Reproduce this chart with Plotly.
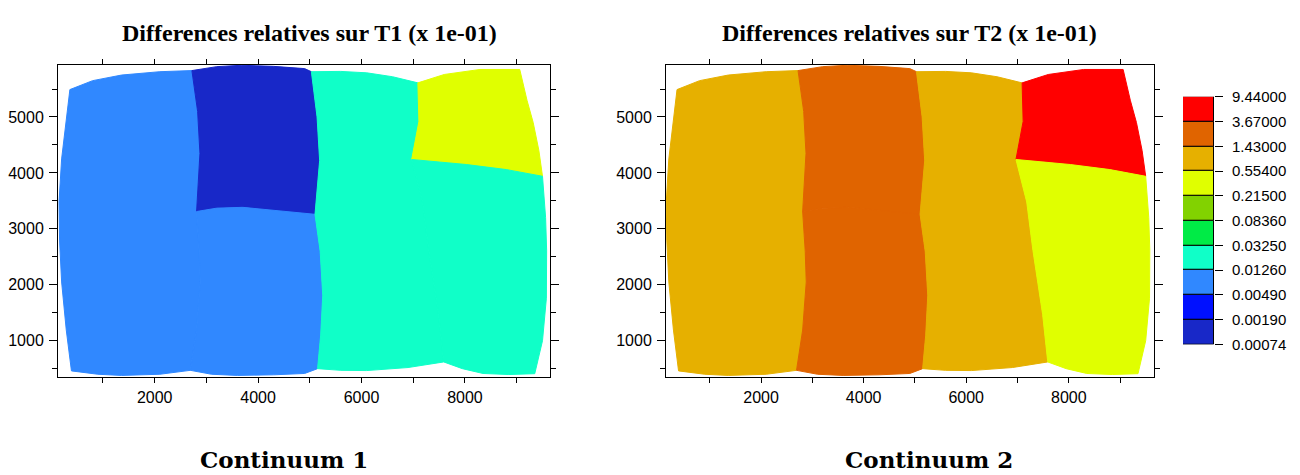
import plotly.graph_objects as go

# ---------------- data ----------------
levels = [0.00074, 0.0019, 0.0049, 0.0126, 0.0325, 0.0836, 0.215, 0.554, 1.43, 3.67, 9.44]
level_labels = ["0.00074", "0.00190", "0.00490", "0.01260", "0.03250", "0.08360",
                "0.21500", "0.55400", "1.43000", "3.67000", "9.44000"]
band_colors = ["rgb(24,40,200)", "rgb(0,16,255)", "rgb(48,136,255)", "rgb(16,255,200)",
               "rgb(0,235,70)", "rgb(130,210,0)", "rgb(224,255,0)", "rgb(230,176,0)",
               "rgb(224,100,0)", "rgb(255,0,0)"]

# mesh edges (x, y in model units)
E_left = [(360, 5490), (290, 4920), (200, 4250), (150, 3480), (160, 2800), (200, 2050), (290, 1190), (390, 460)]
E_top1 = [(360, 5490), (800, 5650), (1360, 5750), (2100, 5810), (2720, 5830)]
E_top2 = [(2720, 5830), (3200, 5900), (3680, 5925), (4300, 5905), (4900, 5865), (5030, 5810)]
E_top3 = [(5030, 5810), (5600, 5815), (6100, 5790), (6600, 5720), (7090, 5610)]
E_top4 = [(7090, 5610), (7600, 5760), (8290, 5850), (9060, 5850)]
E_right1 = [(9060, 5850), (9200, 5300), (9320, 4900), (9430, 4400), (9500, 3940)]
E_right2 = [(9500, 3940), (9560, 3200), (9580, 2620), (9575, 1760), (9500, 1000), (9350, 410)]
E_bot1 = [(390, 460), (900, 400), (1360, 379), (2100, 400), (2690, 470)]
E_bot2 = [(2690, 470), (3100, 400), (3600, 379), (4300, 390), (4900, 414), (5150, 500)]
E_bot3 = [(5150, 500), (5600, 470), (6100, 466), (6900, 520), (7590, 620)]
E_bot4 = [(7590, 620), (7950, 500), (8350, 414), (8850, 395), (9350, 410)]
E_b1_up = [(2720, 5830), (2830, 5100), (2875, 4350), (2810, 3310)]
E_b1_lo = [(2810, 3310), (2860, 2600), (2880, 2050), (2810, 1190), (2690, 470)]
E_b2_up = [(5030, 5810), (5140, 5000), (5190, 4220), (5100, 3260)]
E_b2_lo = [(5100, 3260), (5200, 2600), (5250, 1810), (5210, 1100), (5150, 500)]
E_b3_up = [(7090, 5610), (7110, 4920), (6970, 4240)]
E_b3_lo = [(6970, 4240), (7180, 3480), (7300, 2620), (7490, 1470), (7590, 620)]
E_mid2 = [(2810, 3310), (3200, 3370), (3700, 3385), (4300, 3330), (4900, 3265), (5100, 3260)]
E_mid4 = [(6970, 4240), (7500, 4200), (8030, 4150), (8800, 4060), (9500, 3940)]

regions = ["c1", "c2_top", "c2_bot", "c3", "c4_top", "c4_bot"]
values_T1 = [0.008, 0.001, 0.008, 0.02, 0.35, 0.02]
values_T2 = [0.9, 2.5, 2.5, 0.9, 6.0, 0.35]

titles = ["Differences relatives sur T1 (x 1e-01)", "Differences relatives sur T2 (x 1e-01)"]
captions = ["Continuum 1", "Continuum 2"]


# ---------------- build ----------------
def rev(e):
    return list(reversed(e))


region_edges = {
    "c1": [E_top1, E_b1_up + E_b1_lo[1:], rev(E_bot1), rev(E_left)],
    "c2_top": [E_top2, E_b2_up, rev(E_mid2), rev(E_b1_up)],
    "c2_bot": [E_mid2, E_b2_lo, rev(E_bot2), rev(E_b1_lo)],
    "c3": [E_top3, E_b3_up + E_b3_lo[1:], rev(E_bot3), rev(E_b2_up + E_b2_lo[1:])],
    "c4_top": [E_top4, E_right1, rev(E_mid4), rev(E_b3_up)],
    "c4_bot": [E_mid4, E_right2, rev(E_bot4), rev(E_b3_lo)],
}


def color_for(v):
    idx = 0
    for i in range(len(levels) - 1):
        if v >= levels[i]:
            idx = i
    return band_colors[idx]


fig = go.Figure()
for p, vals in enumerate([values_T1, values_T2]):
    xa = "x" if p == 0 else "x2"
    ya = "y" if p == 0 else "y2"
    for name, v in zip(regions, vals):
        pts = []
        for e in region_edges[name]:
            pts.extend(e)
        xs = [q[0] for q in pts] + [pts[0][0]]
        ys = [q[1] for q in pts] + [pts[0][1]]
        c = color_for(v)
        fig.add_trace(go.Scatter(x=xs, y=ys, mode="lines", fill="toself", fillcolor=c,
                                 line=dict(color=c, width=1), xaxis=xa, yaxis=ya,
                                 showlegend=False, hoverinfo="skip"))

# colour bar as stacked bar
fig.add_trace(go.Bar(x=[0] * 10, y=[1] * 10, base=list(range(10)), width=1,
                     marker=dict(color=band_colors, line=dict(color="black", width=1)),
                     xaxis="x3", yaxis="y3", showlegend=False, hoverinfo="skip"))

W, H = 1300, 475


def px(v):
    return v / W


def py(v):
    return 1 - v / H


tickfont = dict(family="Liberation Sans, Arial, sans-serif", size=16, color="black")
common_x = dict(range=[130, 9645], tick0=0, dtick=2000, ticks="outside", ticklen=5,
                tickcolor="black", showline=True, linecolor="black", linewidth=1, mirror="ticks",
                showgrid=False, zeroline=False, tickfont=tickfont,
                minor=dict(dtick=1000, tick0=0, ticks="outside", ticklen=5, tickcolor="black", showgrid=False))
common_y = dict(range=[345, 5931], tick0=0, dtick=1000, ticks="outside", ticklen=8,
                tickcolor="black", showline=True, linecolor="black", linewidth=1, mirror="ticks",
                showgrid=False, zeroline=False, tickfont=tickfont, ticklabelstandoff=2,
                minor=dict(dtick=500, tick0=0, ticks="outside", ticklen=5, tickcolor="black", showgrid=False))

fig.update_layout(
    width=W, height=H, margin=dict(l=0, r=0, t=0, b=0),
    paper_bgcolor="white", plot_bgcolor="white", bargap=0, barmode="overlay",
    xaxis=dict(domain=[px(58), px(550)], anchor="y", **common_x),
    yaxis=dict(domain=[py(382), py(58)], anchor="x", **common_y),
    xaxis2=dict(domain=[px(666), px(1154)], anchor="y2", **common_x),
    yaxis2=dict(domain=[py(382), py(58)], anchor="x2", **common_y),
    xaxis3=dict(domain=[px(1183), px(1214)], anchor="y3", range=[-0.5, 0.5], visible=False),
    yaxis3=dict(domain=[py(348), py(91)], anchor="x3", side="right", range=[0, 10],
                tickvals=list(range(11)), ticktext=level_labels, ticks="outside", ticklen=8,
                tickcolor="black", showline=False, showgrid=False, zeroline=False, ticklabelstandoff=6,
                tickfont=dict(family="Liberation Sans, Arial, sans-serif", size=15, color="black")),
)
fig.layout.xaxis2.range = [145, 9662]

title_x = [px(309), px(910)]
cap_x = [px(284), px(929)]
for i in range(2):
    fig.add_annotation(text="<b>" + titles[i] + "</b>", x=title_x[i], y=py(25), xref="paper", yref="paper",
                       showarrow=False, xanchor="center", yanchor="middle",
                       font=dict(family="Liberation Serif, Times New Roman, serif", size=24, color="black"))
    fig.add_annotation(text="<b>" + captions[i] + "</b>", x=cap_x[i], y=py(467), xref="paper", yref="paper",
                       showarrow=False, xanchor="center", yanchor="middle",
                       font=dict(family="DejaVu Serif, serif", size=23, color="black"))

post = ("document.documentElement.style.margin='0';document.body.style.margin='0';"
        "document.documentElement.style.overflow='hidden';document.body.style.overflow='hidden';"
        "var d=document.getElementById('{plot_id}');d.style.position='fixed';d.style.top='0';d.style.left='0';")
fig.write_html("out.html", config={"displayModeBar": False}, post_script=post)
